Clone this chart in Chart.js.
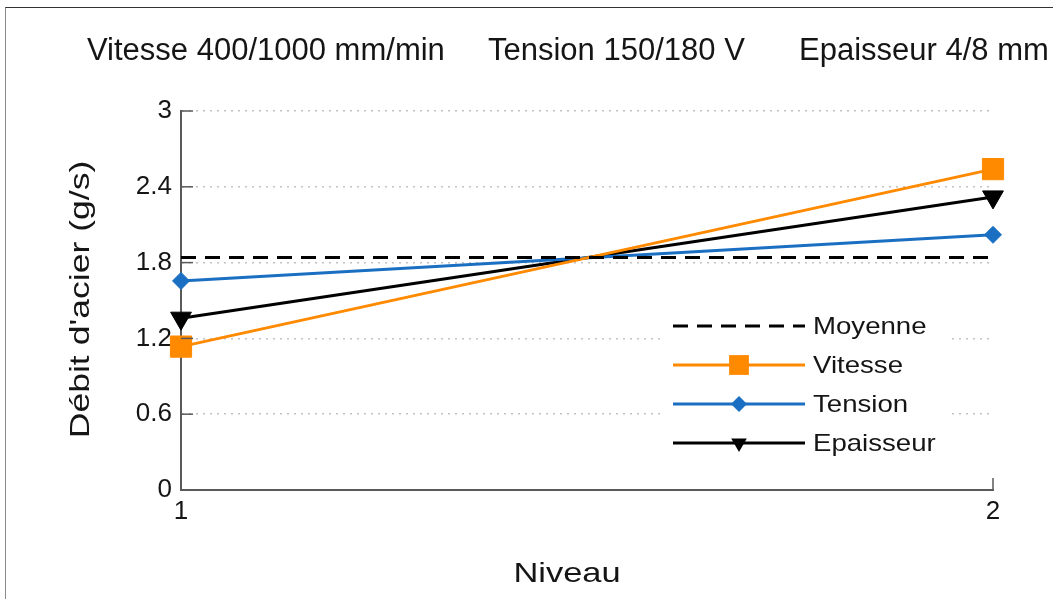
<!DOCTYPE html>
<html>
<head>
<meta charset="utf-8">
<title>Débit d'acier</title>
<script src="https://cdn.jsdelivr.net/npm/chart.js"></script>
<style>
  html, body { margin: 0; padding: 0; background: #fff; }
  #wrap { position: relative; width: 1053px; height: 599px; overflow: hidden; }
  #frame { position: absolute; left: 5px; top: 7px; width: 1100px; height: 700px;
           border-top: 1px solid #333; border-left: 1px solid #8a8a8a; }
  canvas { position: absolute; left: 0; top: 0; }
</style>
</head>
<body>
<div id="wrap">
  <div id="frame"></div>
  <canvas id="debitChart" width="1053" height="599"></canvas>
</div>
<script>
// values
const niveaux = [1, 2];
const moyenne = [1.84, 1.84];
const vitesse = [1.135, 2.54];
const tension = [1.655, 2.02];
const epaisseur = [1.36, 2.32];
const yTicks = [0, 0.6, 1.2, 1.8, 2.4, 3];
const xTicks = [1, 2];
const seriesNames = ['Moyenne', 'Vitesse', 'Tension', 'Epaisseur'];
const titleParts = ['Vitesse 400/1000 mm/min', 'Tension 150/180 V', 'Epaisseur 4/8 mm'];
const xTitle = 'Niveau';
const yTitle = "Débit d'acier (g/s)";

const FONT = '"Liberation Sans", Arial, sans-serif';
const TEXT = '#151515';
const AXIS = '#5a5a5a';

const toPoints = vals => niveaux.map((n, i) => ({ x: n, y: vals[i] }));

// draws the same shapes as Chart.js point styles (used for the legend)
function drawMarker(ctx, style, r, rot, cx, cy, color) {
  ctx.save();
  ctx.translate(cx, cy);
  ctx.rotate((rot || 0) * Math.PI / 180);
  ctx.fillStyle = color;
  ctx.beginPath();
  if (style === 'rect') {
    const s = r * Math.SQRT1_2;
    ctx.rect(-s, -s, 2 * s, 2 * s);
  } else if (style === 'rectRot') {
    ctx.moveTo(-r, 0); ctx.lineTo(0, -r); ctx.lineTo(r, 0); ctx.lineTo(0, r);
    ctx.closePath();
  } else if (style === 'triangle') {
    for (let k = 0; k < 3; k++) {
      const a = k * 2 * Math.PI / 3;
      ctx.lineTo(Math.sin(a) * r, -Math.cos(a) * r);
    }
    ctx.closePath();
  }
  ctx.fill();
  ctx.restore();
}

// stretched text, the picture's labels are wider than the font
function wideText(ctx, text, x, y, sx, rot) {
  ctx.save();
  ctx.translate(x, y);
  if (rot) ctx.rotate(rot);
  ctx.scale(sx, 1);
  ctx.fillText(text, 0, 0);
  ctx.restore();
}

const legendMarkerRadius = [0, 14, 8, 9];

const decorPlugin = {
  id: 'decor',
  afterDraw(chart) {
    const { ctx, chartArea, scales: { x, y } } = chart;
    ctx.save();

    // header
    ctx.fillStyle = TEXT;
    ctx.font = '31px ' + FONT;
    ctx.textBaseline = 'alphabetic';
    ctx.textAlign = 'left';
    const headerX = [87, 488, 799];
    titleParts.forEach((t, i) => ctx.fillText(t, headerX[i], 60));

    // tick marks pointing inward
    ctx.strokeStyle = AXIS;
    ctx.lineWidth = 1.5;
    yTicks.forEach(v => {
      const py = y.getPixelForValue(v);
      ctx.beginPath();
      ctx.moveTo(chartArea.left, py);
      ctx.lineTo(chartArea.left + 12, py);
      ctx.stroke();
    });
    xTicks.forEach(v => {
      const px = x.getPixelForValue(v);
      ctx.beginPath();
      ctx.moveTo(px, chartArea.bottom);
      ctx.lineTo(px, chartArea.bottom - 12);
      ctx.stroke();
    });

    // axis titles
    ctx.fillStyle = TEXT;
    ctx.font = '28px ' + FONT;
    ctx.textAlign = 'center';
    wideText(ctx, xTitle, 567, 582, 1.23, 0);
    wideText(ctx, yTitle, 89, (chartArea.top + chartArea.bottom) / 2 - 1, 1.27, -Math.PI / 2);

    // legend
    ctx.fillStyle = '#fff';
    ctx.fillRect(665, 305, 283, 158);
    chart.data.datasets.forEach((ds, i) => {
      const rowY = 326 + i * 39;
      ctx.save();
      ctx.strokeStyle = ds.borderColor;
      ctx.lineWidth = ds.borderWidth;
      ctx.setLineDash(ds.borderDash || []);
      ctx.beginPath();
      ctx.moveTo(673, rowY);
      ctx.lineTo(805, rowY);
      ctx.stroke();
      ctx.restore();
      if (ds.pointRadius > 0) {
        drawMarker(ctx, ds.pointStyle, legendMarkerRadius[i], ds.pointRotation, 739, rowY, ds.borderColor);
      }
      ctx.fillStyle = TEXT;
      ctx.font = '24px ' + FONT;
      ctx.textAlign = 'left';
      ctx.textBaseline = 'middle';
      wideText(ctx, ds.label, 813, rowY + 1, 1.15, 0);
    });

    ctx.restore();
  }
};

const ORANGE = '#ff8a00';
const BLUE = '#1b6fc2';
const BLACK = '#000000';

new Chart(document.getElementById('debitChart'), {
  type: 'line',
  data: {
    datasets: [
      {
        label: seriesNames[0], data: toPoints(moyenne),
        borderColor: BLACK, borderWidth: 3, borderDash: [15, 9],
        pointRadius: 0, pointHoverRadius: 0, clip: false
      },
      {
        label: seriesNames[1], data: toPoints(vitesse),
        borderColor: ORANGE, backgroundColor: ORANGE, borderWidth: 3,
        pointStyle: 'rect', pointRadius: 15, pointBorderWidth: 1,
        pointBackgroundColor: ORANGE, pointBorderColor: ORANGE, clip: false
      },
      {
        label: seriesNames[2], data: toPoints(tension),
        borderColor: BLUE, backgroundColor: BLUE, borderWidth: 3,
        pointStyle: 'rectRot', pointRadius: 8.5, pointBorderWidth: 1,
        pointBackgroundColor: BLUE, pointBorderColor: BLUE, clip: false
      },
      {
        label: seriesNames[3], data: toPoints(epaisseur),
        borderColor: BLACK, backgroundColor: BLACK, borderWidth: 3,
        pointStyle: 'triangle', pointRotation: 180, pointRadius: 12, pointBorderWidth: 1,
        pointBackgroundColor: BLACK, pointBorderColor: BLACK, clip: false
      }
    ]
  },
  options: {
    responsive: false,
    animation: false,
    layout: { padding: { top: 111, right: 60, bottom: 0, left: 0 } },
    plugins: {
      legend: { display: false },
      title: { display: false },
      tooltip: { enabled: false }
    },
    scales: {
      x: {
        type: 'linear', min: 1, max: 2,
        afterBuildTicks: s => { s.ticks = xTicks.map(v => ({ value: v })); },
        afterFit: s => { s.height = 109; },
        grid: { display: false, drawTicks: false },
        border: { display: true, color: AXIS, width: 2 },
        ticks: { font: { family: FONT, size: 26 }, color: TEXT, padding: 6, callback: v => String(v) }
      },
      y: {
        min: 0, max: 3,
        afterBuildTicks: s => { s.ticks = yTicks.map(v => ({ value: v })); },
        afterFit: s => { s.width = 181; },
        grid: {
          drawTicks: false, lineWidth: 1.5,
          color: c => (c.tick && c.tick.value === 0) ? 'rgba(0,0,0,0)' : '#c2c2c2'
        },
        border: { display: true, color: AXIS, width: 2, dash: [2, 5] },
        ticks: { font: { family: FONT, size: 26 }, color: TEXT, padding: 9, callback: v => String(v) }
      }
    }
  },
  plugins: [decorPlugin]
});
</script>
</body>
</html>
